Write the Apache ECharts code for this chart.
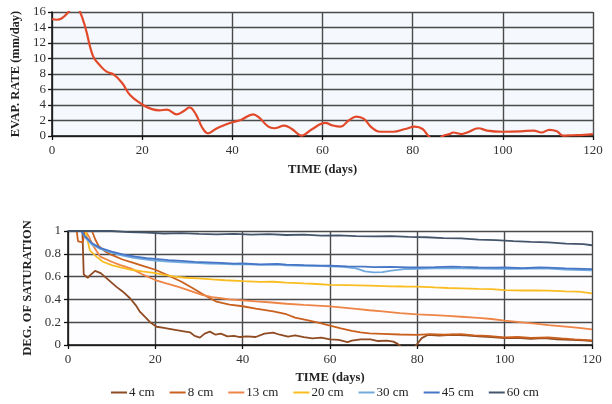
<!DOCTYPE html>
<html>
<head>
<meta charset="utf-8">
<script src="https://cdn.jsdelivr.net/npm/echarts@6/dist/echarts.min.js"></script>
<style>
  html, body { margin: 0; padding: 0; background: #fff; }
  #chart { width: 612px; height: 404px; }
</style>
</head>
<body>
<div id="chart"></div>
<script>
// 横轴刻度（天）
const dayTicks = [0, 20, 40, 60, 80, 100, 120];

// 上图：蒸发速率 [天, mm/day]
const evapRate = [
  [0, 15.1], [1, 15.0], [2.2, 15.2], [3.5, 15.9], [5, 16.9], [6, 16.3], [7.4, 14], [9.1, 10.3],
  [10.8, 9], [12.1, 8.3], [13.8, 7.9], [15.6, 6.8], [17.3, 5.3], [19.9, 4.1], [22, 3.5], [23.8, 3.3],
  [25.5, 3.4], [27.7, 2.8], [29.4, 3.3], [30.5, 3.7], [32, 2.7], [33.3, 1.1], [34.6, 0.35], [36.3, 0.9],
  [38, 1.35], [40.2, 1.8], [42, 2.1], [44.6, 2.8], [45.9, 2.4], [48, 1.2], [49.3, 1.0], [51.5, 1.35],
  [53.2, 0.9], [55.4, 0.05], [57.5, 0.8], [60.6, 1.7], [62.3, 1.35], [64, 1.2], [65.8, 2.0], [67.5, 2.5],
  [69.2, 2.2], [70.9, 1.1], [72.7, 0.55], [75.7, 0.55], [78.3, 0.9], [80.5, 1.2], [82.2, 0.9], [83.5, 0],
  [85, -0.7], [86.7, 0], [88.2, 0.25], [89, 0.45], [90.8, 0.25], [92.1, 0.45], [94.6, 1.0], [96.5, 0.7],
  [99.9, 0.55], [104, 0.6], [106.8, 0.7], [108.6, 0.45], [110.3, 0.8], [112, 0.6], [113.3, 0.05],
  [115.5, 0.1], [118, 0.15], [120, 0.25]
];

// 下图：饱和度 [天, 值]
const sat4 = [
  [0, 1], [3.3, 1], [3.6, 0.62], [4.5, 0.59], [5.3, 0.62], [6.2, 0.65], [7.5, 0.63], [9, 0.58],
  [11.1, 0.51], [12.5, 0.47], [14.2, 0.41], [15.5, 0.35], [16.5, 0.29], [17.8, 0.24], [18.8, 0.2],
  [20.3, 0.16], [22, 0.15], [23.5, 0.14], [24.9, 0.13], [26.5, 0.12], [28, 0.11], [29, 0.08],
  [30.2, 0.065], [31.3, 0.1], [32.5, 0.117], [33.8, 0.09], [35, 0.1], [36.5, 0.075], [38, 0.08],
  [39.4, 0.07], [41, 0.075], [43, 0.07], [45, 0.1], [47, 0.108], [48.5, 0.09], [50.4, 0.073],
  [52, 0.085], [54, 0.07], [56, 0.058], [58, 0.065], [60, 0.05], [62, 0.045], [64, 0.025],
  [65, 0.038], [67, 0.05], [69.3, 0.05], [71, 0.035], [73, 0.038], [74.5, 0.03], [75.5, 0.01],
  [77, -0.04], [79, -0.04], [79.8, 0.0], [81, 0.06], [82.5, 0.09], [85, 0.082], [88, 0.09],
  [91, 0.085], [94, 0.075], [97, 0.07], [100, 0.06], [103, 0.062], [106, 0.055], [109, 0.06],
  [112, 0.05], [115, 0.045], [118, 0.04], [120, 0.035]
];
const sat8 = [
  [0, 1], [2, 1], [2.3, 0.91], [3.4, 0.9], [3.8, 1], [5.5, 1], [6.2, 0.93], [7, 0.87], [8.5, 0.82],
  [10, 0.79], [12.5, 0.75], [15, 0.72], [17.5, 0.69], [20, 0.66], [23, 0.61], [26, 0.555],
  [28.5, 0.5], [30.7, 0.45], [32.5, 0.41], [34, 0.38], [37, 0.355], [40, 0.34], [43, 0.32],
  [47, 0.295], [50, 0.27], [52, 0.24], [55, 0.215], [58, 0.19], [60, 0.17], [62.5, 0.145],
  [65, 0.123], [67, 0.11], [69, 0.102], [72, 0.098], [76, 0.092], [80, 0.088], [83, 0.095],
  [86, 0.09], [90, 0.096], [93, 0.085], [96, 0.08], [100, 0.067], [103, 0.07], [106, 0.062],
  [110, 0.067], [113, 0.058], [116, 0.05], [120, 0.04]
];
const sat13 = [
  [0, 1], [4, 1], [4.8, 0.95], [5.6, 0.88], [7.4, 0.775], [10, 0.73], [12, 0.7], [14.5, 0.67],
  [17, 0.62], [20, 0.57], [22.5, 0.54], [25.3, 0.51], [28, 0.475], [30.7, 0.44], [33, 0.42],
  [35, 0.41], [37, 0.4], [40, 0.392], [43, 0.383], [46, 0.375], [50, 0.362], [54, 0.352],
  [57, 0.345], [60, 0.338], [63, 0.328], [66, 0.317], [69, 0.305], [72, 0.295], [76, 0.28],
  [80, 0.268], [84, 0.262], [87, 0.255], [90, 0.248], [94, 0.238], [97, 0.228], [100, 0.214],
  [104, 0.198], [107, 0.188], [110, 0.175], [114, 0.162], [117, 0.15], [120, 0.137]
];
const sat20 = [
  [0, 1], [4, 1], [5, 0.83], [6.5, 0.775], [8, 0.73], [10, 0.7], [12, 0.68], [14.5, 0.66],
  [17, 0.645], [20, 0.63], [22, 0.615], [24.4, 0.6], [27, 0.59], [29.8, 0.585], [33, 0.575],
  [36, 0.568], [40, 0.56], [44, 0.553], [47, 0.555], [50, 0.547], [54, 0.54], [57, 0.535],
  [60, 0.527], [64, 0.525], [69, 0.52], [74, 0.515], [77, 0.513], [80, 0.512], [84, 0.505],
  [87, 0.5], [90, 0.497], [94, 0.492], [97, 0.49], [100, 0.482], [104, 0.478], [107, 0.48],
  [110, 0.477], [114, 0.47], [117, 0.468], [120, 0.453]
];
const sat30 = [
  [0, 1], [3, 1], [4, 0.94], [5.5, 0.88], [7.5, 0.84], [10, 0.81], [12.5, 0.785], [15, 0.765],
  [18, 0.75], [20, 0.74], [23, 0.732], [26, 0.725], [29, 0.72], [32, 0.715], [35, 0.712],
  [38, 0.708], [40, 0.71], [44, 0.703], [48, 0.705], [50, 0.698], [54, 0.695], [58, 0.692],
  [60, 0.69], [63, 0.685], [66, 0.672], [68, 0.645], [70, 0.637], [72, 0.64], [74, 0.652],
  [77, 0.665], [80, 0.668], [84, 0.672], [88, 0.675], [90, 0.672], [94, 0.67], [98, 0.668],
  [100, 0.67], [104, 0.668], [108, 0.672], [110, 0.67], [114, 0.662], [118, 0.658], [120, 0.655]
];
const sat45 = [
  [0, 1], [3, 1], [4, 0.95], [5.6, 0.89], [7.5, 0.85], [10, 0.82], [12.5, 0.795], [15.4, 0.775],
  [18, 0.762], [20, 0.755], [23, 0.745], [26, 0.738], [29, 0.73], [32, 0.725], [35, 0.72],
  [38, 0.713], [40, 0.715], [44, 0.708], [48, 0.712], [50, 0.705], [54, 0.7], [58, 0.697],
  [60, 0.695], [64, 0.69], [68, 0.688], [70, 0.683], [74, 0.685], [78, 0.68], [80, 0.68],
  [84, 0.683], [88, 0.688], [90, 0.685], [94, 0.68], [98, 0.678], [100, 0.68], [104, 0.675],
  [108, 0.68], [110, 0.678], [114, 0.672], [118, 0.668], [120, 0.665]
];
const sat60 = [
  [0, 1], [10, 1], [14, 0.99], [18, 0.985], [22, 0.978], [26, 0.982], [30, 0.975], [34, 0.97],
  [38, 0.975], [42, 0.968], [46, 0.972], [50, 0.965], [54, 0.968], [58, 0.96], [62, 0.962],
  [66, 0.955], [70, 0.952], [74, 0.955], [78, 0.948], [82, 0.945], [86, 0.938], [90, 0.935],
  [94, 0.925], [98, 0.92], [102, 0.912], [106, 0.905], [110, 0.9], [114, 0.89], [118, 0.885],
  [120, 0.875]
];

const depthNames = ['4 cm', '8 cm', '13 cm', '20 cm', '30 cm', '45 cm', '60 cm'];
const depthData = [sat4, sat8, sat13, sat20, sat30, sat45, sat60];
const depthColors = ['#8f4b22', '#c9601e', '#ee8446', '#f9bd22', '#72aadd', '#4776c6', '#44546a'];

const serif = 'Liberation Serif';
const labelStyle = { fontFamily: serif, fontSize: 13, color: '#333' };
const nameStyle = { fontFamily: serif, fontSize: 12.5, fontWeight: 'bold', color: '#222' };
const gridLine = { show: true, lineStyle: { color: '#4a4a4a', width: 1.4 } };
const axisLine = { show: true, lineStyle: { color: '#111', width: 1.5 } };
const axisTick = { show: true, length: 4, lineStyle: { color: '#111', width: 1.3 } };

const chart = echarts.init(document.getElementById('chart'));

const xAxisBase = (gridIndex, gap) => ({
    type: 'value',
    gridIndex: gridIndex,
    min: dayTicks[0],
    max: dayTicks[dayTicks.length - 1],
    interval: dayTicks[1] - dayTicks[0],
    name: 'TIME (days)',
    nameLocation: 'middle',
    nameGap: gap,
    nameTextStyle: nameStyle,
    axisLabel: Object.assign({ margin: 8 }, labelStyle),
    axisLine: axisLine,
    axisTick: axisTick,
    splitLine: gridLine
});

const series = [{
    name: 'EVAP',
    type: 'line',
    xAxisIndex: 0,
    yAxisIndex: 0,
    data: evapRate,
    smooth: 0.4,
    showSymbol: false,
    clip: true,
    lineStyle: { color: '#e2492b', width: 2.2 },
    itemStyle: { color: '#e2492b' }
}];

depthNames.forEach((name, i) => {
    series.push({
        name: name,
        type: 'line',
        xAxisIndex: 1,
        yAxisIndex: 1,
        data: depthData[i],
        showSymbol: false,
        clip: true,
        lineStyle: { color: depthColors[i], width: 1.8 },
        itemStyle: { color: depthColors[i] }
    });
});

chart.setOption({
    animation: false,
    backgroundColor: '#fff',
    grid: [
        { left: 52, right: 19, top: 12, height: 124, show: true, backgroundColor: '#f5f8fc', borderWidth: 0 },
        { left: 68, right: 20, top: 231, height: 114, show: true, backgroundColor: '#fdfdff', borderWidth: 0 }
    ],
    legend: {
        data: depthNames,
        bottom: 0,
        left: 106,
        icon: 'rect',
        itemWidth: 16,
        itemHeight: 2,
        itemGap: 15,
        textStyle: { fontFamily: serif, fontSize: 13, color: '#222', padding: [0, 0, 0, -3] }
    },
    xAxis: [xAxisBase(0, 27), xAxisBase(1, 26)],
    yAxis: [
        {
            type: 'value',
            gridIndex: 0,
            min: 0,
            max: 16,
            interval: 2,
            name: 'EVAP. RATE (mm/day)',
            nameLocation: 'middle',
            nameGap: 28,
            nameTextStyle: nameStyle,
            axisLabel: Object.assign({ margin: 6 }, labelStyle),
            axisLine: axisLine,
            axisTick: axisTick,
            splitLine: gridLine
        },
        {
            type: 'value',
            gridIndex: 1,
            min: 0,
            max: 1,
            interval: 0.2,
            name: 'DEG. OF SATURATION',
            nameLocation: 'middle',
            nameGap: 30,
            nameTextStyle: nameStyle,
            axisLabel: Object.assign({ margin: 7 }, labelStyle),
            axisLine: axisLine,
            axisTick: axisTick,
            splitLine: gridLine
        }
    ],
    series: series
});
</script>
</body>
</html>
